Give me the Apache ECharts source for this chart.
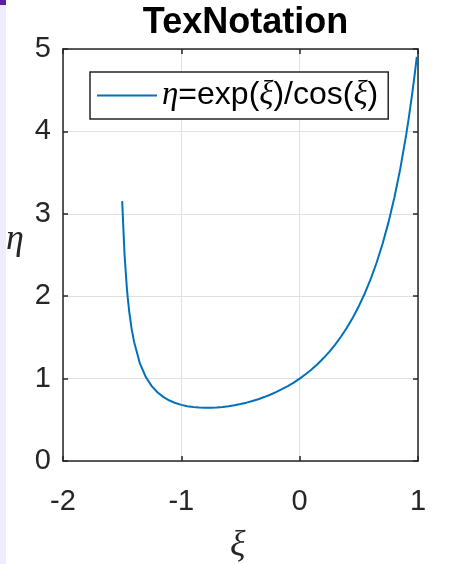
<!DOCTYPE html>
<html>
<head>
<meta charset="utf-8">
<script src="https://cdn.jsdelivr.net/npm/echarts@6/dist/echarts.min.js"></script>
<style>html,body{margin:0;padding:0;background:#fff}#c{width:449px;height:564px}</style>
</head>
<body>
<div id="c"></div>
<script>
const titleText = 'TexNotation';
const legendName = 'η=exp(ξ)/cos(ξ)';
const xLabelText = 'ξ';
const yLabelText = 'η';
const xTicks = [-2, -1, 0, 1];
const yTicks = [0, 1, 2, 3, 4, 5];
const xi = [-1.50, -1.48, -1.46, -1.45, -1.44, -1.42, -1.40, -1.35, -1.30, -1.25, -1.20, -1.15, -1.10, -1.05, -1.00,
  -0.95, -0.90, -0.85, -0.80, -0.75, -0.70, -0.65, -0.60, -0.55, -0.50, -0.45, -0.40, -0.35, -0.30, -0.25, -0.20,
  -0.15, -0.10, -0.05, 0.00, 0.05, 0.10, 0.15, 0.20, 0.25, 0.30, 0.35, 0.40, 0.45, 0.50, 0.55, 0.60, 0.65, 0.70,
  0.75, 0.80, 0.85, 0.90, 0.92, 0.95, 0.97, 0.99];
const eta = [3.154, 2.505, 2.093, 1.939, 1.810, 1.603, 1.451, 1.184, 1.019, 0.909, 0.831, 0.775, 0.734, 0.703, 0.681,
  0.665, 0.654, 0.648, 0.645, 0.646, 0.649, 0.656, 0.665, 0.677, 0.691, 0.708, 0.728, 0.750, 0.776, 0.804, 0.835,
  0.871, 0.909, 0.952, 1.000, 1.053, 1.111, 1.175, 1.246, 1.325, 1.413, 1.511, 1.620, 1.742, 1.879, 2.033, 2.208,
  2.406, 2.633, 2.893, 3.194, 3.545, 3.957, 4.142, 4.445, 4.667, 4.905];

const axisCol = '#262626';
const font = 'Liberation Sans, Arial, sans-serif';
const serif = 'Liberation Serif, Times New Roman, serif';
const chart = echarts.init(document.getElementById('c'));
const grid = {left: 63, right: 31, top: 49, bottom: 103};
function baseAxis(extra) {
  return Object.assign({
    type: 'value',
    axisLine: {show: true, onZero: false, lineStyle: {color: axisCol, width: 1.5}},
    axisTick: {show: true, inside: true, length: 5, lineStyle: {color: axisCol, width: 1.5}},
    splitLine: {show: false}
  }, extra);
}
chart.setOption({
  animation: false,
  backgroundColor: '#fff',
  title: {
    text: titleText, left: 240.5, textAlign: 'center', top: 0,
    textStyle: {fontFamily: font, fontWeight: 'bold', fontSize: 36, color: '#000'}
  },
  grid: grid,
  legend: {
    data: [{name: legendName}],
    left: 90, top: 72,
    padding: [7, 10, 7, 7],
    itemWidth: 60, itemHeight: 2,
    backgroundColor: '#fff', borderColor: axisCol, borderWidth: 1.5, borderRadius: 0,
    icon: 'rect',
    formatter: function () { return '{i|η}=exp({i|ξ})/cos({i|ξ})'; },
    textStyle: {
      fontFamily: font, fontSize: 32, color: '#000',
      rich: {i: {fontFamily: serif, fontStyle: 'italic', fontSize: 33, color: '#000'}}
    }
  },
  xAxis: [
    baseAxis({
      min: xTicks[0], max: xTicks[xTicks.length - 1], interval: 1, position: 'bottom',
      axisLabel: {fontFamily: font, fontSize: 29, color: '#262626', margin: 26},
      splitLine: {show: true, lineStyle: {color: '#e0e0e0', width: 1}}
    }),
    baseAxis({
      min: xTicks[0], max: xTicks[xTicks.length - 1], interval: 1, position: 'top',
      axisLabel: {show: false}
    })
  ],
  yAxis: [
    baseAxis({
      min: yTicks[0], max: yTicks[yTicks.length - 1], interval: 1, position: 'left',
      axisLabel: {fontFamily: font, fontSize: 29, color: '#262626', margin: 12},
      splitLine: {show: true, lineStyle: {color: '#e0e0e0', width: 1}}
    }),
    baseAxis({
      min: yTicks[0], max: yTicks[yTicks.length - 1], interval: 1, position: 'right',
      axisLabel: {show: false}
    })
  ],
  series: [{
    name: legendName, type: 'line',
    data: xi.map((x, k) => [x, eta[k]]),
    showSymbol: false, symbol: 'none',
    lineStyle: {color: '#0072BD', width: 2},
    itemStyle: {color: '#0072BD'}
  }],
  graphic: [
    {type: 'rect', shape: {x: 0, y: 0, width: 6, height: 564}, style: {fill: '#EEEDFB'}, silent: true},
    {type: 'rect', shape: {x: 0, y: 0, width: 6, height: 5}, style: {fill: '#5E1FA8'}, silent: true},
    {type: 'text', left: 6, top: 222, silent: true,
      style: {text: yLabelText, font: 'italic 36px ' + serif, fill: '#262626'}},
    {type: 'text', left: 230, top: 528, silent: true,
      style: {text: xLabelText, font: 'italic 36px ' + serif, fill: '#262626'}}
  ]
});
</script>
</body>
</html>
